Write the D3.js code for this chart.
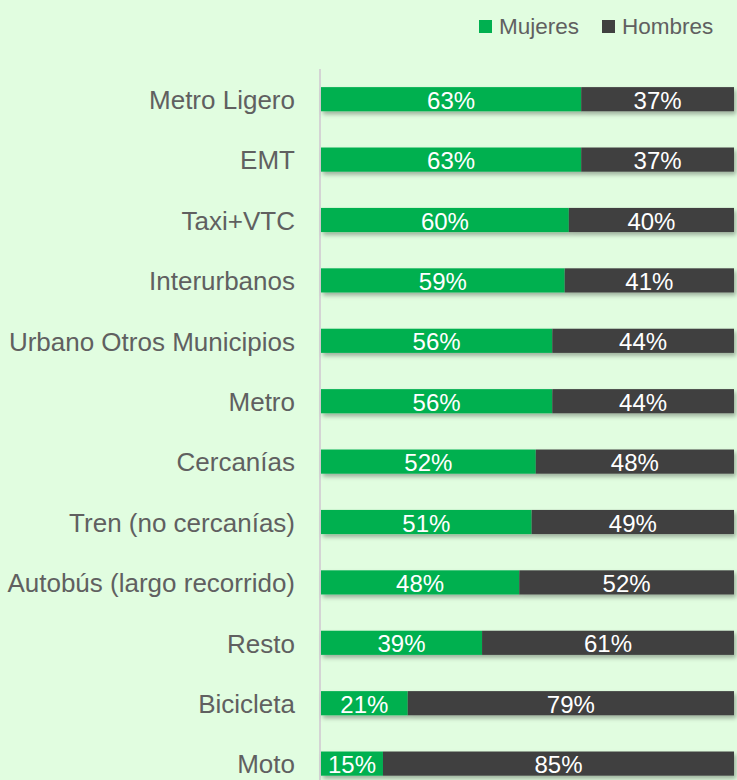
<!DOCTYPE html>
<html>
<head>
<meta charset="utf-8">
<script src="https://cdn.jsdelivr.net/npm/d3@7"></script>
<style>
  html, body { margin: 0; padding: 0; background: #e1fde0; }
  svg text { font-family: "Liberation Sans", Arial, Helvetica, sans-serif; }
</style>
</head>
<body>
<div id="chart"></div>
<script>
// data
var categories = ["Metro Ligero", "EMT", "Taxi+VTC", "Interurbanos", "Urbano Otros Municipios",
  "Metro", "Cercanías", "Tren (no cercanías)", "Autobús (largo recorrido)", "Resto", "Bicicleta", "Moto"];
var mujeres = [63, 63, 60, 59, 56, 56, 52, 51, 48, 39, 21, 15];
var hombres = [37, 37, 40, 41, 44, 44, 48, 49, 52, 61, 79, 85];
var seriesNames = ["Mujeres", "Hombres"];
var seriesColors = ["#00b050", "#404040"];

var width = 737, height = 780;

var svg = d3.select("#chart")
  .append("svg")
    .attr("width", width)
    .attr("height", height)
    .style("display", "block");

var defs = svg.append("defs");
var f = defs.append("filter").attr("id", "shadow")
  .attr("x", "-5%").attr("y", "-30%").attr("width", "110%").attr("height", "180%");
f.append("feDropShadow")
  .attr("dx", 2).attr("dy", 3).attr("stdDeviation", 2)
  .attr("flood-color", "#000").attr("flood-opacity", 0.3);

var data = categories.map(function(c, i) {
  return {cat: c, Mujeres: mujeres[i], Hombres: hombres[i]};
});

var x = d3.scaleLinear().domain([0, 100]).range([321, 734]);
var y = d3.scaleBand()
  .domain(categories)
  .range([69, 69 + 60.4 * categories.length])
  .paddingInner(0.6)
  .paddingOuter(0.3);

var color = d3.scaleOrdinal().domain(seriesNames).range(seriesColors);

var stacked = d3.stack().keys(seriesNames)(data);

// axis line
svg.append("line")
  .attr("x1", 320).attr("x2", 320)
  .attr("y1", 69).attr("y2", height)
  .attr("stroke", "#d4d4d4")
  .attr("stroke-width", 2);

// category labels
svg.append("g")
  .selectAll("text")
  .data(categories)
  .enter().append("text")
    .attr("x", 295)
    .attr("y", function(d) { return y(d) + y.bandwidth() / 2; })
    .attr("dy", "0.38em")
    .attr("text-anchor", "end")
    .attr("fill", "#606060")
    .attr("font-family", "'Liberation Sans', Arial, sans-serif")
    .style("font-size", "26px")
    .text(function(d) { return d; });

// bars (shadow per row)
var rows = svg.append("g").selectAll("g")
  .data(data)
  .enter().append("g")
    .attr("filter", "url(#shadow)");

rows.selectAll("rect")
  .data(function(d) {
    return stacked.map(function(s) {
      var v = s.find(function(e) { return e.data.cat === d.cat; });
      return {key: s.key, cat: d.cat, v0: v[0], v1: v[1]};
    });
  })
  .enter().append("rect")
    .attr("x", function(d) { return x(d.v0); })
    .attr("y", function(d) { return y(d.cat); })
    .attr("width", function(d) { return x(d.v1) - x(d.v0); })
    .attr("height", y.bandwidth())
    .attr("fill", function(d) { return color(d.key); });

// value labels
svg.append("g")
  .selectAll("g")
  .data(stacked)
  .enter().append("g")
  .selectAll("text")
  .data(function(s) { return s; })
  .enter().append("text")
    .attr("x", function(d) { return (x(d[0]) + x(d[1])) / 2; })
    .attr("y", function(d) { return y(d.data.cat) + y.bandwidth() / 2; })
    .attr("dy", "0.4em")
    .attr("text-anchor", "middle")
    .attr("fill", "#fff")
    .attr("font-family", "'Liberation Sans', Arial, sans-serif")
    .style("font-size", "24px")
    .text(function(d) { return (d[1] - d[0]) + "%"; });

// ----- LEGEND -----
var legendX = [479, 602];
var legend = svg.selectAll(".legend")
  .data(seriesNames)
  .enter().append("g")
    .attr("class", "legend")
    .attr("transform", function(d, i) { return "translate(" + legendX[i] + ",20)"; });

legend.append("rect")
  .attr("width", 13)
  .attr("height", 13)
  .attr("fill", color);

legend.append("text")
  .attr("x", 20)
  .attr("y", 14)
  .attr("fill", "#606060")
  .attr("font-family", "'Liberation Sans', Arial, sans-serif")
  .style("font-size", "22.5px")
  .text(function(d) { return d; });
</script>
</body>
</html>
